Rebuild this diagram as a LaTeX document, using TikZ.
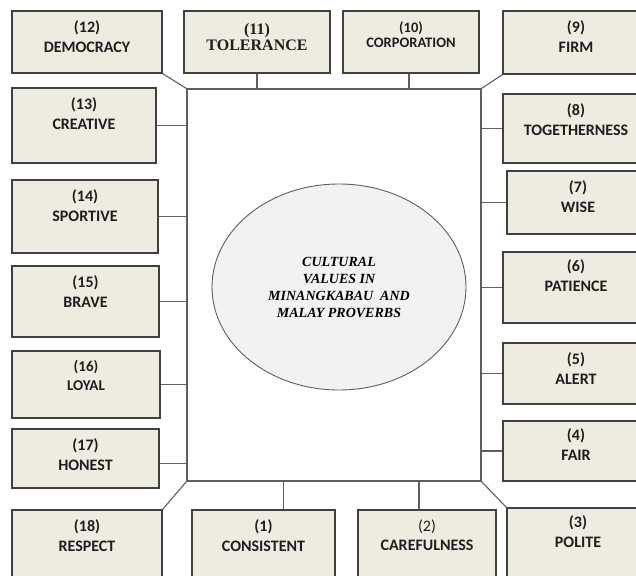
\documentclass[tikz,border=0pt]{standalone}
\usepackage{fontspec}
\setmainfont{Carlito}
\newfontfamily\titlefont{Liberation Serif}
\usepackage{xcolor}
\usetikzlibrary{shapes,positioning,fit}
\definecolor{boxfill}{HTML}{EEECE1}
\definecolor{boxline}{HTML}{404040}
\definecolor{linkgray}{HTML}{5F5F5F}
\definecolor{corefill}{HTML}{F2F2F2}
\definecolor{inkgray}{HTML}{1E1E1E}

\begin{document}
\begin{tikzpicture}[
        x=1pt, y=-1pt,
        node distance=10pt,
        valbox/.style={rectangle, draw=boxline, fill=boxfill, line width=1.1pt, inner sep=0pt},
        valtext/.style={text=inkgray, font=\bfseries\fontsize{16}{19.5}\selectfont, align=center, inner sep=0pt},
        panel/.style={rectangle, draw=linkgray, fill=white, line width=1.1pt, inner sep=0pt},
        core/.style={ellipse, draw=linkgray, fill=corefill, line width=0.9pt, minimum width=254pt, minimum height=206pt, align=center, text=black, font=\titlefont\bfseries\itshape\fontsize{14}{17}\selectfont},
        link/.style={draw=linkgray, line width=1.1pt}
    ]
        \useasboundingbox (0,0) rectangle (636,575);
        \clip (0,0) rectangle (636,575);

        \node[panel, fit={(187,89) (481,481)}] (frame) {};
        \node[core] (core) at (339,287) {CULTURAL\\VALUES IN\\MINANGKABAU\ \ AND\\MALAY PROVERBS};

        \node[valbox, fit={(12,11) (162,73)}] (v12) {};
        \node[valbox, fit={(184,11) (330,73)}] (v11) {};
        \node[valbox, fit={(343,11) (479,73)}] (v10) {};
        \node[valbox, fit={(503,11) (649,74)}] (v9) {};
        \node[valbox, fit={(503,94) (649,163)}] (v8) {};
        \node[valbox, fit={(507,171) (649,234)}] (v7) {};
        \node[valbox, fit={(503,252) (649,323)}] (v6) {};
        \node[valbox, fit={(503,343) (649,404)}] (v5) {};
        \node[valbox, fit={(503,421) (649,481)}] (v4) {};
        \node[valbox, fit={(507,508) (649,590)}] (v3) {};
        \node[valbox, fit={(358,510) (496,590)}] (v2) {};
        \node[valbox, fit={(192,510) (335,590)}] (v1) {};
        \node[valbox, fit={(12,510) (162,590)}] (v18) {};
        \node[valbox, fit={(12,429) (159,488)}] (v17) {};
        \node[valbox, fit={(12,351) (160,418)}] (v16) {};
        \node[valbox, fit={(12,266) (159,337)}] (v15) {};
        \node[valbox, fit={(12,180) (158,253)}] (v14) {};
        \node[valbox, fit={(12,88) (156,163)}] (v13) {};

        \node[valtext, below=of v12.north] (t12) {(12)\\DEMOCRACY};
        \node[valtext, below=13pt of v11.north, font=\titlefont\bfseries\fontsize{16}{15.5}\selectfont] (t11) {(11)\\TOLERANCE};
        \node[valtext, below=11pt of v10.north, font=\bfseries\fontsize{14.5}{15}\selectfont] (t10) {(10)\\CORPORATION};
        \node[valtext, below=of v9.north] (t9) {(9)\\FIRM};
        \node[valtext, below=of v8.north] (t8) {(8)\\TOGETHERNESS};
        \node[valtext, below=of v7.north] (t7) {(7)\\WISE};
        \node[valtext, below=8pt of v6.north] (t6) {(6)\\PATIENCE};
        \node[valtext, below=of v5.north] (t5) {(5)\\ALERT};
        \node[valtext, below=8pt of v4.north] (t4) {(4)\\FAIR};
        \node[valtext, below=8pt of v3.north] (t3) {(3)\\POLITE};
        \node[valtext, below=of v2.north] (t2) {{\mdseries (2)}\\CAREFULNESS};
        \node[valtext, below=of v1.north] (t1) {(1)\\CONSISTENT};
        \node[valtext, below=of v18.north] (t18) {(18)\\RESPECT};
        \node[valtext, below=of v17.north] (t17) {(17)\\HONEST};
        \node[valtext, below=of v16.north, font=\bfseries\fontsize{15}{19}\selectfont] (t16) {(16)\\LOYAL};
        \node[valtext, below=of v15.north] (t15) {(15)\\BRAVE};
        \node[valtext, below=of v14.north] (t14) {(14)\\SPORTIVE};
        \node[valtext, below=of v13.north] (t13) {(13)\\CREATIVE};

        \draw[link] (v12.south east) -- (frame.north west);
        \draw[link] (v11.south) -- (v11.south |- frame.north);
        \draw[link] ([xshift=-2pt]v10.south) -- ([xshift=-2pt]v10.south |- frame.north);
        \draw[link] (v9.south west) -- (frame.north east);
        \draw[link] (v8.west) -- (v8.west -| frame.east);
        \draw[link] (v7.west) -- (v7.west -| frame.east);
        \draw[link] (v6.west) -- (v6.west -| frame.east);
        \draw[link] (v5.west) -- (v5.west -| frame.east);
        \draw[link] (v4.west) -- (v4.west -| frame.east);
        \draw[link] (v3.north west) -- (frame.south east);
        \draw[link] ([xshift=-8pt]v2.north) -- ([xshift=-8pt]v2.north |- frame.south);
        \draw[link] ([xshift=20pt]v1.north) -- ([xshift=20pt]v1.north |- frame.south);
        \draw[link] (v18.north east) -- (frame.south west);
        \draw[link] ([yshift=-5pt]v17.east) -- ([yshift=-5pt]v17.east -| frame.west);
        \draw[link] (v16.east) -- (v16.east -| frame.west);
        \draw[link] (v15.east) -- (v15.east -| frame.west);
        \draw[link] (v14.east) -- (v14.east -| frame.west);
        \draw[link] (v13.east) -- (v13.east -| frame.west);
    \end{tikzpicture}
\end{document}
